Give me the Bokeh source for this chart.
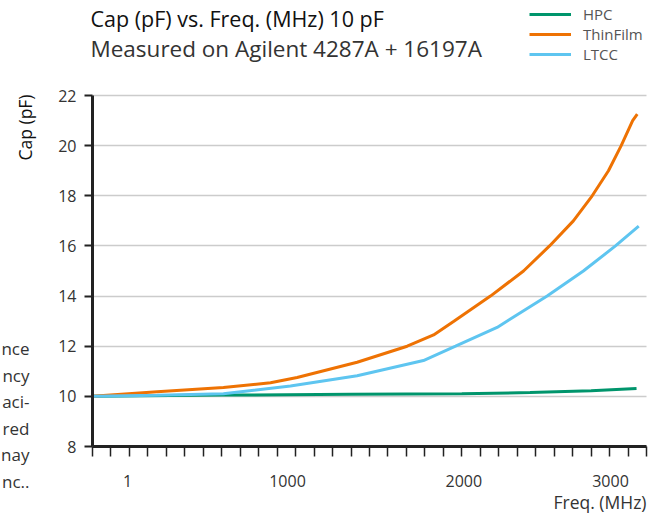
from bokeh.plotting import figure
from bokeh.models import Range1d, FixedTicker, Label, Legend, LegendItem
from bokeh.embed import file_html
from bokeh.resources import INLINE

# ---------------- data ----------------
title_text = "Cap (pF) vs. Freq. (MHz) 10 pF"
subtitle_text = "Measured on Agilent 4287A + 16197A"
series_names = ["HPC", "ThinFilm", "LTCC"]

hpc_x = [0, 700, 1400, 2000, 2370, 2700, 2946]
hpc_y = [10.0, 10.05, 10.08, 10.10, 10.15, 10.22, 10.31]

thin_x = [0, 350, 709, 964, 1108, 1433, 1704, 1847, 1957, 2155, 2334, 2475, 2604, 2706, 2794, 2863, 2925, 2950]
thin_y = [10.0, 10.18, 10.35, 10.54, 10.75, 11.36, 12.0, 12.45, 13.0, 14.0, 15.0, 16.0, 17.0, 18.0, 19.0, 20.0, 21.0, 21.26]

ltcc_x = [0, 350, 709, 1072, 1433, 1792, 1966, 2191, 2462, 2658, 2832, 2958]
ltcc_y = [10.0, 10.04, 10.1, 10.41, 10.82, 11.43, 12.0, 12.75, 14.0, 15.0, 16.0, 16.79]

x_tick_labels = ["1", "1000", "2000", "3000"]
x_tick_label_pos = [190, 1056, 2011, 2805]
x_minor = list(range(0, 3001, 100))
x_bounds = (0, 3000)
y_ticks = [8, 10, 12, 14, 16, 18, 20, 22]
y_bounds = (8, 22)

side_text = ["nce", "ncy", "aci-", "red", "nay", "nc.."]

colors = ["#00956c", "#ee7203", "#5ec5f0"]
FONT = "Open Sans"

# ---------------- layout (pixels) ----------------
W, H = 660, 513
left, right, top, bottom = 92, 14, 95, 67
px_x = (W - left - right) / (x_bounds[1] - x_bounds[0])
px_y = (H - top - bottom) / (y_bounds[1] - y_bounds[0])
x_range = Range1d(x_bounds[0] - left / px_x, x_bounds[1] + right / px_x)
y_range = Range1d(y_bounds[0] - bottom / px_y, y_bounds[1] + top / px_y)

p = figure(width=W, height=H, output_backend="svg", toolbar_location=None,
           x_range=x_range, y_range=y_range, min_border=0)
p.title.visible = False
p.outline_line_color = None
p.background_fill_color = "white"
p.border_fill_color = "white"

# grid
p.xgrid.visible = False
grid_ok = True
try:
    p.ygrid.cross_bounds = x_bounds
    p.ygrid.bounds = y_bounds
except Exception:
    grid_ok = False
if grid_ok:
    p.ygrid.ticker = FixedTicker(ticks=y_ticks)
    p.ygrid.grid_line_color = "#cccccc"
    p.ygrid.grid_line_width = 1.5
else:
    p.ygrid.visible = False
    p.multi_line([list(x_bounds)] * len(y_ticks), [[t, t] for t in y_ticks],
                 line_color="#cccccc", line_width=1.5)

r1 = p.line(hpc_x, hpc_y, line_color=colors[0], line_width=3)
r2 = p.line(thin_x, thin_y, line_color=colors[1], line_width=3)
r3 = p.line(ltcc_x, ltcc_y, line_color=colors[2], line_width=3)

# axes (fixed inside the full-canvas frame)
xa = p.xaxis[0]
xa.fixed_location = y_bounds[0]
xa.bounds = x_bounds
xa.ticker = FixedTicker(ticks=x_tick_label_pos, minor_ticks=x_minor)
xa.major_label_overrides = {v: t for v, t in zip(x_tick_label_pos, x_tick_labels)}
xa.major_tick_out = 0
xa.major_tick_in = 0
xa.minor_tick_out = 10
xa.minor_tick_in = 0
xa.minor_tick_line_color = "#222222"
xa.minor_tick_line_width = 1.5
xa.axis_line_color = "#222222"
xa.axis_line_width = 3
xa.major_label_standoff = 18
xa.major_label_text_font = FONT
xa.major_label_text_font_size = "16px"
xa.major_label_text_color = "#333333"

ya = p.yaxis[0]
ya.fixed_location = x_bounds[0]
ya.bounds = y_bounds
ya.ticker = FixedTicker(ticks=y_ticks, minor_ticks=[])
ya.major_tick_out = 8
ya.major_tick_in = 0
ya.major_tick_line_color = "#222222"
ya.major_tick_line_width = 2
ya.axis_line_color = "#222222"
ya.axis_line_width = 3
ya.major_label_standoff = 8
ya.major_label_text_font = FONT
ya.major_label_text_font_size = "16px"
ya.major_label_text_color = "#333333"

# texts (screen units: pixels from the bottom-left of the canvas-wide frame)
def add_label(px, py, text, **kw):
    p.add_layout(Label(x=px, y=H - py, x_units="screen", y_units="screen", text=text,
                       text_font=FONT, text_baseline="middle", **kw))

add_label(90, 18, title_text, text_font_size="21.5px", text_color="#111111", text_align="left")
add_label(90, 48, subtitle_text, text_font_size="22.5px", text_color="#333333", text_align="left")
add_label(24, 127, "Cap (pF)", angle=1.5707963, text_font_size="17.5px",
          text_color="#111111", text_align="center")
add_label(646, 501, "Freq. (MHz)", text_font_size="17.5px", text_color="#333333", text_align="right")
for i, t in enumerate(side_text):
    add_label(29, 348 + i * 26.6, t, text_font_size="17px", text_color="#333333", text_align="right")

legend = Legend(items=[LegendItem(label=n, renderers=[r]) for n, r in zip(series_names, [r1, r2, r3])],
                location=(529, H - 64), padding=0, margin=0, spacing=-2,
                glyph_width=42, glyph_height=18, label_height=18, label_standoff=12,
                label_text_font=FONT, label_text_font_size="15px", label_text_color="#555555",
                border_line_color=None, background_fill_alpha=0)
p.add_layout(legend, "center")

open("out.html", "w").write(file_html(p, INLINE))
